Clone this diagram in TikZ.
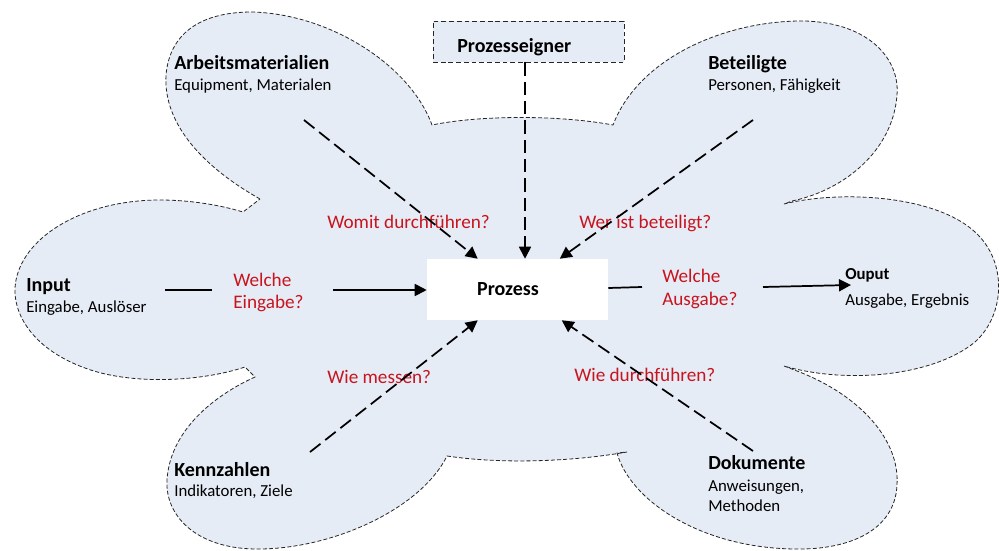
\documentclass[tikz,border=0pt]{standalone}
\usepackage{fontspec}
\setmainfont{Carlito}
\usetikzlibrary{arrows.meta,calc}
\definecolor{cloudfill}{RGB}{230,236,246}
\definecolor{askred}{RGB}{200,20,30}
\begin{document}
\begin{tikzpicture}[x=0.75pt,y=-0.75pt,
  cloudline/.style={draw=black!85, line width=0.6pt, dash pattern=on 3pt off 1.6pt, fill=cloudfill},
  hdtext/.style={anchor=base west, inner sep=0pt, font=\fontsize{15}{18}\selectfont\bfseries},
  subtext/.style={anchor=base west, inner sep=0pt, font=\fontsize{12.6}{15}\selectfont},
  asktext/.style={anchor=base west, inner sep=0pt, text=askred, font=\fontsize{14.4}{17}\selectfont},
  dflow/.style={line width=1.3pt, dash pattern=on 10pt off 4.5pt, -{Triangle[length=9pt,width=9pt]}},
  sflow/.style={line width=1.3pt, -{Triangle[length=9pt,width=9pt]}},
  sline/.style={line width=1.3pt},
]
\useasboundingbox (0,0) rectangle (999,550);

% the six-lobed cloud behind everything
\path[cloudline] (260,199)
  .. controls (205,168) and (163,125) .. (166,75)
  .. controls (170,30) and (205,12) .. (252,12)
  .. controls (330,14) and (410,65) .. (432,125)
  .. controls (480,115) and (560,115) .. (613,125)
  .. controls (640,55) and (730,20) .. (805,21)
  .. controls (870,23) and (900,60) .. (897,95)
  .. controls (893,150) and (845,190) .. (792,201)
  -- (784,204)
  .. controls (840,190) and (935,195) .. (975,232)
  .. controls (1008,262) and (1005,315) .. (975,342)
  .. controls (935,375) and (850,385) .. (784,366)
  -- (797,371)
  .. controls (860,395) and (900,440) .. (897,485)
  .. controls (895,530) and (850,550) .. (795,549)
  .. controls (700,548) and (630,500) .. (617,453)
  -- (627,452)
  .. controls (570,462) and (500,464) .. (447,456)
  .. controls (420,510) and (330,550) .. (255,549)
  .. controls (195,548) and (165,515) .. (167,480)
  .. controls (170,430) and (215,395) .. (255,377)
  -- (245,367)
  .. controls (200,382) and (130,385) .. (85,368)
  .. controls (30,348) and (10,310) .. (16,280)
  .. controls (25,235) and (85,200) .. (160,200)
  .. controls (190,200) and (220,205) .. (243,212)
  -- cycle;

% boxes
\node[draw=black!85, line width=0.7pt, dash pattern=on 3.6pt off 2.2pt, fill=cloudfill,
      minimum width=143.25pt, minimum height=30.75pt, inner sep=0pt] (owner) at (528.5,41.5) {};
\node[hdtext] (ownerT) at (457,52) {Prozesseigner};
\node[fill=white, minimum width=135.75pt, minimum height=45.75pt, inner sep=0pt,
      font=\fontsize{15}{18}\selectfont\bfseries] (prozess) at (517.5,289.5) {\hspace*{-14.25pt}Prozess};

% lobe texts
\node[hdtext] (arbT) at (174,69) {Arbeitsmaterialien};
\node[subtext] (arbS) at (174,90) {Equipment, Materialen};
\node[hdtext] (betT) at (708,69) {Beteiligte};
\node[subtext] (betS) at (708,90) {Personen, Fähigkeit};
\node[hdtext] (inT) at (26,291) {Input};
\node[subtext] (inS) at (26,312) {Eingabe, Auslöser};
\node[hdtext] (kenT) at (174,476) {Kennzahlen};
\node[subtext] (kenS) at (174,496) {Indikatoren, Ziele};
\node[hdtext] (dokT) at (708,469) {Dokumente};
\node[subtext] (dokS1) at (708,491) {Anweisungen,};
\node[subtext] (dokS2) at (708,511) {Methoden};
\node[hdtext, font=\fontsize{12.6}{15}\selectfont\bfseries] (outT) at (845,279) {Ouput};
\node[subtext] (outS) at (845,305) {Ausgabe, Ergebnis};

% questions
\node[asktext] (qArb) at (327,228) {Womit durchführen?};
\node[asktext] (qBet) at (579,228) {Wer ist beteiligt?};
\node[asktext] (qIn1) at (233,286) {Welche};
\node[asktext] (qIn2) at (233,308) {Eingabe?};
\node[asktext] (qOut1) at (662,282) {Welche};
\node[asktext] (qOut2) at (662,305) {Ausgabe?};
\node[asktext] (qKen) at (327,383) {Wie messen?};
\node[asktext] (qDok) at (574,381) {Wie durchführen?};

% connectors
\coordinate (arbA) at (304,120);
\coordinate (betA) at (753,120);
\coordinate (kenA) at (310,452);
\coordinate (dokA) at (753,451);
\coordinate (ownX) at (525,0);
\draw[dflow] (arbA) -- ($(prozess.north west)+(51,0)$);
\draw[dflow] (betA) -- ($(prozess.north west)+(133,0)$);
\draw[dflow] (kenA) -- ($(prozess.south west)+(51,0)$);
\draw[dflow] (dokA) -- ($(prozess.south west)+(135,0)$);
\draw[dflow] (owner.south -| ownX) -- (prozess.north -| ownX);

\coordinate (inA) at (165,290);
\coordinate (inB) at (212,290);
\coordinate (inC) at (333,290);
\draw[sline] (inA) -- (inB);
\draw[sflow] (inC) -- (prozess.west |- inC);

\coordinate (outA) at (608,288);
\coordinate (outB) at (642,287);
\coordinate (outC) at (763,287);
\coordinate (outD) at (851,285);
\draw[sline] (prozess.east |- outA) -- (outB);
\draw[sflow] (outC) -- (outD);
\end{tikzpicture}
\end{document}
